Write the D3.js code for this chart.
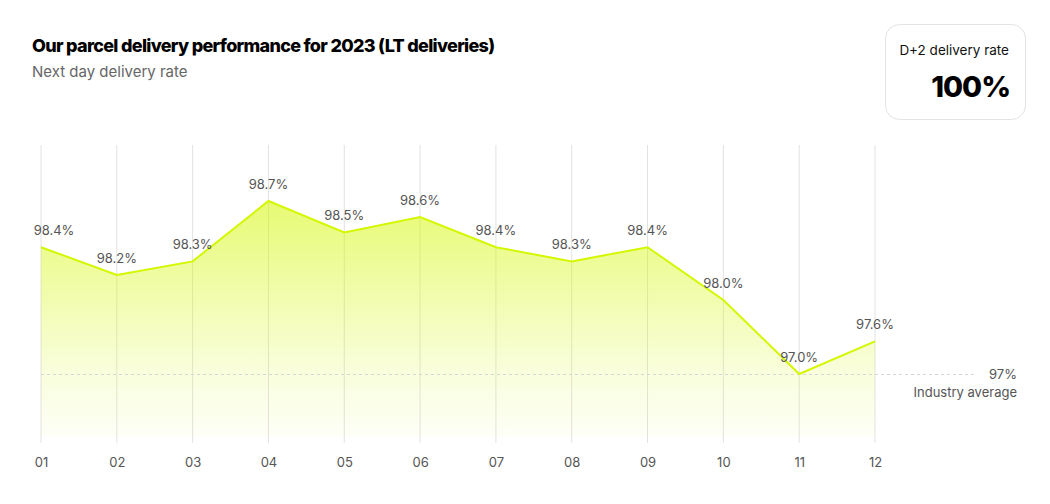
<!DOCTYPE html>
<html>
<head>
<meta charset="utf-8">
<script src="https://cdn.jsdelivr.net/npm/d3@7"></script>
<style>
  body { margin: 0; background: #fff; }
  text { font-family: Inter, "Noto Sans", sans-serif; }
</style>
</head>
<body>
<div id="chart"></div>
<script>
var months = ['01', '02', '03', '04', '05', '06', '07', '08', '09', '10', '11', '12'];
var rates = [98.4, 98.2, 98.3, 98.7, 98.5, 98.6, 98.4, 98.3, 98.4, 98.0, 97.0, 97.6];
var industryAvg = 97;
var d2Rate = '100%';

var width = 1050;
var height = 504;

var svg = d3.select('#chart')
  .append('svg')
  .attr('width', width)
  .attr('height', height);

var x = d3.scalePoint()
  .domain(months)
  .range([41, 875]);

// points above the industry average, drawn on a slightly stretched scale
var lift = d3.scalePow()
  .exponent(1.6)
  .domain([0, 1.7])
  .range([374, 201]);
var y = function(v) { return lift(v - industryAvg); };
var bottom = 437;

var defs = svg.append('defs');
var grad = defs.append('linearGradient')
  .attr('id', 'fill')
  .attr('gradientUnits', 'userSpaceOnUse')
  .attr('x1', 0).attr('x2', 0)
  .attr('y1', y(d3.max(rates))).attr('y2', bottom);
grad.append('stop').attr('offset', 0).attr('stop-color', '#d4f700').attr('stop-opacity', 0.55);
grad.append('stop').attr('offset', 0.7).attr('stop-color', '#d4f700').attr('stop-opacity', 0.15);
grad.append('stop').attr('offset', 1).attr('stop-color', '#d4f700').attr('stop-opacity', 0.03);

// title
svg.append('text')
  .attr('x', 32).attr('y', 52)
  .attr('font-size', 18)
  .attr('font-weight', 800)
  .attr('letter-spacing', -0.7)
  .attr('fill', '#000')
  .text('Our parcel delivery performance for 2023 (LT deliveries)');

svg.append('text')
  .attr('x', 32).attr('y', 77)
  .attr('font-size', 15)
  .attr('fill', '#666')
  .text('Next day delivery rate');

// D+2 box
svg.append('rect')
  .attr('x', 885.5).attr('y', 24.5)
  .attr('width', 140).attr('height', 95)
  .attr('rx', 14)
  .attr('fill', '#fff')
  .attr('stroke', '#e3e3e3');

svg.append('text')
  .attr('x', 1009).attr('y', 55)
  .attr('text-anchor', 'end')
  .attr('font-size', 13.5)
  .attr('fill', '#111')
  .text('D+2 delivery rate');

svg.append('text')
  .attr('x', 1010).attr('y', 97)
  .attr('text-anchor', 'end')
  .attr('font-size', 29)
  .attr('font-weight', 800)
  .attr('letter-spacing', -1)
  .attr('fill', '#000')
  .text(d2Rate);

// grid
svg.selectAll('.grid')
  .data(months)
  .enter()
  .append('line')
  .attr('class', 'grid')
  .attr('x1', (d) => x(d)).attr('x2', (d) => x(d))
  .attr('y1', 145).attr('y2', 443)
  .attr('stroke', '#e2e2e2')
  .attr('stroke-width', 1);

// x axis labels
var xAxis = svg.append('g')
  .attr('transform', 'translate(0,' + 443 + ')')
  .call(d3.axisBottom(x).tickSize(0).tickPadding(15));
xAxis.select('.domain').remove();
xAxis.selectAll('text')
  .attr('font-family', 'Inter, sans-serif')
  .attr('font-size', 13)
  .attr('fill', '#555');

// area and line
var area = d3.area()
  .x((d, i) => x(months[i]))
  .y0(bottom)
  .y1((d) => y(d));

svg.append('path')
  .datum(rates)
  .attr('d', area)
  .attr('fill', 'url(#fill)');

// industry average
svg.append('line')
  .attr('x1', 41).attr('x2', 975)
  .attr('y1', y(industryAvg) + 0.5).attr('y2', y(industryAvg) + 0.5)
  .attr('stroke', '#d6d6d6')
  .attr('stroke-dasharray', '3,3');

svg.append('text')
  .attr('x', 1017).attr('y', 379)
  .attr('text-anchor', 'end')
  .attr('font-size', 13)
  .attr('fill', '#555')
  .text(industryAvg + '%');

svg.append('text')
  .attr('x', 1017).attr('y', 397)
  .attr('text-anchor', 'end')
  .attr('font-size', 13)
  .attr('fill', '#555')
  .text('Industry average');

var line = d3.line()
  .x((d, i) => x(months[i]))
  .y((d) => y(d));

svg.append('path')
  .datum(rates)
  .attr('d', line)
  .attr('fill', 'none')
  .attr('stroke', '#d4f700')
  .attr('stroke-width', 2);

// value labels
svg.selectAll('.val')
  .data(rates)
  .enter()
  .append('text')
  .attr('class', 'val')
  .attr('x', (d, i) => Math.max(x(months[i]), 54))
  .attr('y', (d) => y(d) - 12)
  .attr('text-anchor', 'middle')
  .attr('font-size', 13)
  .attr('fill', '#555')
  .text((d) => d.toFixed(1) + '%');
</script>
</body>
</html>
